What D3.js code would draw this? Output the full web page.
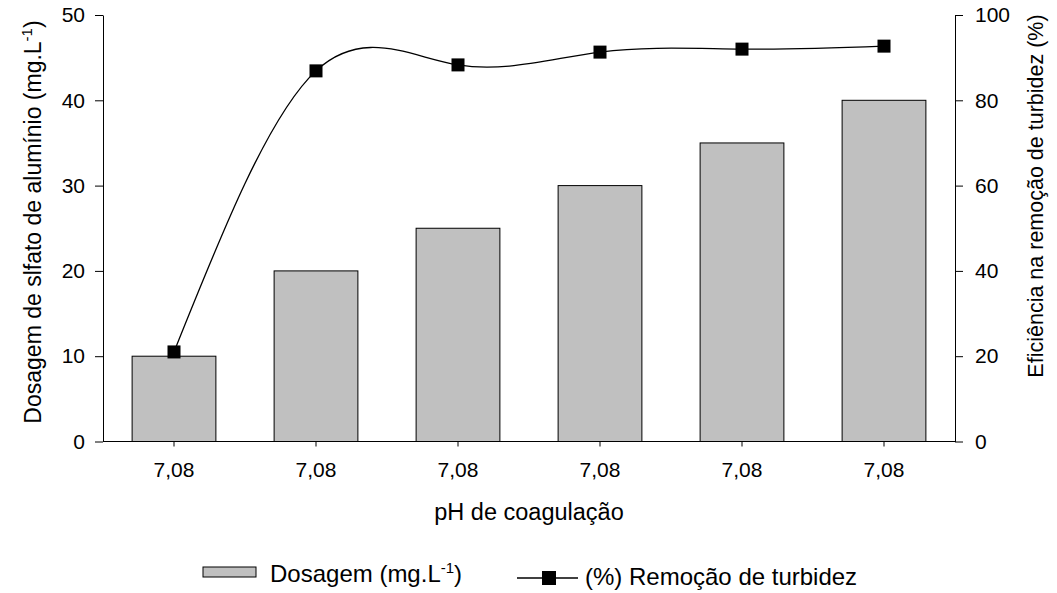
<!DOCTYPE html>
<html>
<head>
<meta charset="utf-8">
<script src="https://cdn.jsdelivr.net/npm/d3@7"></script>
<style>
  html, body { margin: 0; padding: 0; background: #fff; }
  svg { display: block; font-family: "Liberation Sans", Arial, sans-serif; }
  .axis text { font-size: 21px; fill: #000; }
  .axis path, .axis line { stroke: #000; stroke-width: 1; }
</style>
</head>
<body>
<svg id="chart" width="1057" height="593"></svg>
<script>
// Jar-test results: coagulant dose (bars) and turbidity removal (line)
const categories = ["7,08", "7,08", "7,08", "7,08", "7,08", "7,08"];
const dosage = [10, 20, 25, 30, 35, 40];           // mg.L-1
const removal = [21.0, 86.9, 88.3, 91.3, 92.0, 92.7]; // %
const leftTicks = [0, 10, 20, 30, 40, 50];
const rightTicks = [0, 20, 40, 60, 80, 100];

const svg = d3.select("#chart");
const m = { left: 103, right: 955, top: 15, bottom: 441.5 };

const x = d3.scaleBand()
  .domain(d3.range(categories.length))
  .range([m.left, m.right])
  .paddingInner(0.41)
  .paddingOuter(0.205);

const yL = d3.scaleLinear().domain([0, 50]).range([m.bottom, m.top]);
const yR = d3.scaleLinear().domain([0, 100]).range([m.bottom, m.top]);

// bars
svg.append("g").selectAll("rect")
  .data(dosage)
  .join("rect")
  .attr("x", (d, i) => x(i))
  .attr("y", d => yL(d))
  .attr("width", x.bandwidth())
  .attr("height", d => yL(0) - yL(d))
  .attr("fill", "#c0c0c0")
  .attr("stroke", "#000")
  .attr("stroke-width", 1);

// left axis
const gL = svg.append("g").attr("class", "axis")
  .attr("transform", `translate(${m.left},0)`)
  .call(d3.axisLeft(yL).tickValues(leftTicks).tickSize(8).tickPadding(10).tickSizeOuter(0));
gL.select(".domain").attr("stroke", "#555");
gL.selectAll(".tick line").attr("stroke", "#555");

// right axis
const gR = svg.append("g").attr("class", "axis")
  .attr("transform", `translate(${m.right},0)`)
  .call(d3.axisRight(yR).tickValues(rightTicks).tickSize(8).tickPadding(12).tickSizeOuter(0));

// bottom axis
const gB = svg.append("g").attr("class", "axis")
  .attr("transform", `translate(0,${m.bottom})`)
  .call(d3.axisBottom(x).tickFormat(i => categories[i]).tickSize(5).tickPadding(16).tickSizeOuter(0));
gB.select(".domain").attr("d", `M${m.left},0H${m.right}`);

// removal line (smoothed)
const cx = i => x(i) + x.bandwidth() / 2;
const line = d3.line()
  .x((d, i) => cx(i))
  .y(d => yR(d))
  .curve(d3.curveNatural);
svg.append("path")
  .datum(removal)
  .attr("d", line)
  .attr("fill", "none")
  .attr("stroke", "#000")
  .attr("stroke-width", 1.3);

svg.append("g").selectAll("rect")
  .data(removal)
  .join("rect")
  .attr("x", (d, i) => cx(i) - 6.5)
  .attr("y", d => yR(d) - 6.5)
  .attr("width", 13)
  .attr("height", 13)
  .attr("fill", "#000");

// axis titles
const lt = svg.append("text")
  .attr("transform", "translate(41,222) rotate(-90)")
  .attr("text-anchor", "middle")
  .attr("font-size", 23);
lt.append("tspan").text("Dosagem de slfato de alumínio (mg.L");
lt.append("tspan").attr("font-size", 15).attr("dy", -9).text("-1");
lt.append("tspan").attr("dy", 9).text(")");

svg.append("text")
  .attr("transform", "translate(1043,196) rotate(-90)")
  .attr("text-anchor", "middle")
  .attr("font-size", 21.5)
  .text("Eficiência na remoção de turbidez (%)");

svg.append("text")
  .attr("x", 529).attr("y", 520)
  .attr("text-anchor", "middle")
  .attr("font-size", 23.5)
  .text("pH de coagulação");

// legend
const lg = svg.append("g");
lg.append("rect")
  .attr("x", 203).attr("y", 567).attr("width", 53).attr("height", 10)
  .attr("fill", "#c0c0c0").attr("stroke", "#000").attr("stroke-width", 1);
const lt1 = lg.append("text").attr("x", 270).attr("y", 582).attr("font-size", 24);
lt1.append("tspan").text("Dosagem (mg.L");
lt1.append("tspan").attr("font-size", 15).attr("dy", -9).text("-1");
lt1.append("tspan").attr("dy", 9).text(")");

lg.append("line")
  .attr("x1", 517).attr("x2", 578).attr("y1", 578).attr("y2", 578)
  .attr("stroke", "#000").attr("stroke-width", 1.3);
lg.append("rect")
  .attr("x", 542).attr("y", 571).attr("width", 14).attr("height", 14)
  .attr("fill", "#000");
lg.append("text").attr("x", 585).attr("y", 585).attr("font-size", 24)
  .text("(%) Remoção de turbidez");
</script>
</body>
</html>
